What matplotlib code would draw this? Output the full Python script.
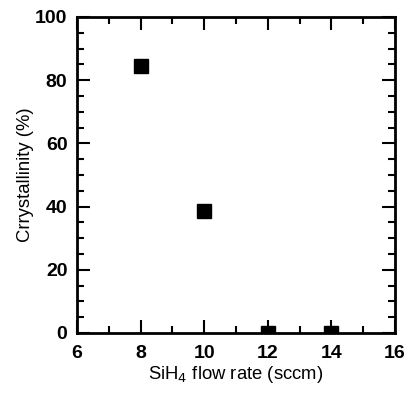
import matplotlib
matplotlib.use("Agg")
import matplotlib.pyplot as plt
from matplotlib.ticker import MultipleLocator

flow = [8, 10, 12, 14]
cryst = [84.5, 38.5, 0, 0]

plt.rcParams['font.family'] = ['Liberation Sans', 'DejaVu Sans']

fig = plt.figure(figsize=(4.08, 3.94), dpi=100)
ax = fig.add_axes([0.189, 0.155, 0.779, 0.802])

ax.plot(flow, cryst, linestyle='none', marker='s', markersize=10.5, color='black')

ax.set_xlim(6, 16)
ax.set_ylim(0, 100)
ax.xaxis.set_major_locator(MultipleLocator(2))
ax.xaxis.set_minor_locator(MultipleLocator(1))
ax.yaxis.set_major_locator(MultipleLocator(20))
ax.yaxis.set_minor_locator(MultipleLocator(5))

ax.tick_params(which='both', direction='in', top=True, right=True, width=1.5)
ax.tick_params(which='major', length=9.5, labelsize=14)
ax.tick_params(axis='x', which='major', pad=9)
ax.tick_params(axis='y', which='major', pad=7)
ax.tick_params(which='minor', length=5)
for lab in ax.get_xticklabels() + ax.get_yticklabels():
    lab.set_fontweight('bold')
for s in ax.spines.values():
    s.set_linewidth(2)

ax.set_xlabel('SiH$_4$ flow rate (sccm)', fontsize=13.3, labelpad=1)
ax.set_ylabel('Crrystallinity (%)', fontsize=13.3, labelpad=1)

fig.savefig('out.png', dpi=100)
